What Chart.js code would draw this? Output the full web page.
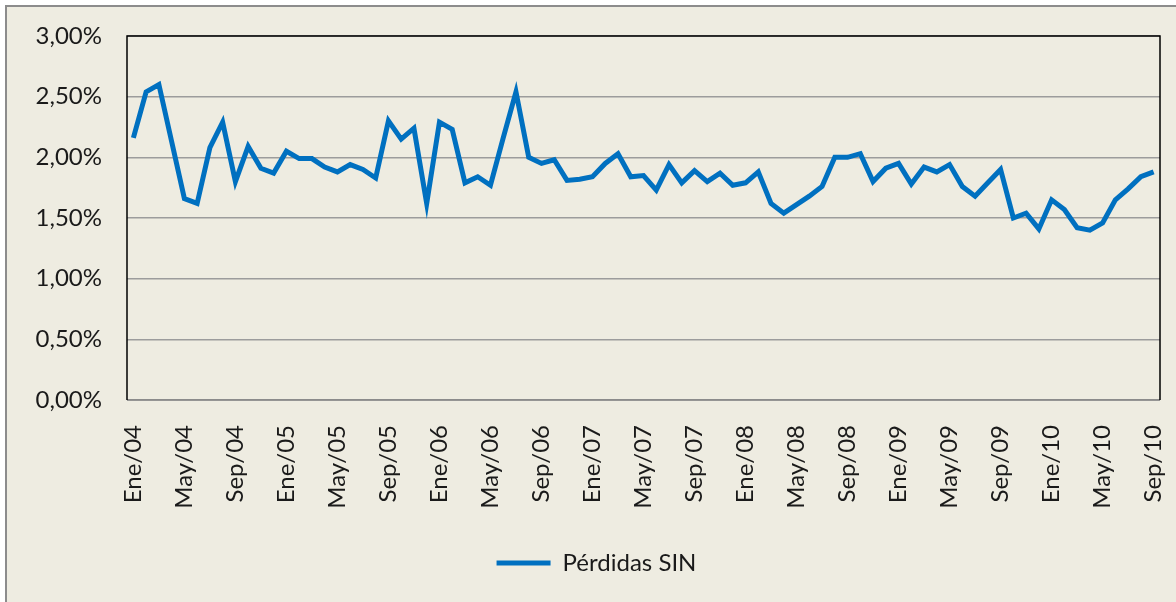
<!DOCTYPE html>
<html>
<head>
<meta charset="utf-8">
<script src="https://cdn.jsdelivr.net/npm/chart.js@4"></script>
<style>
  html, body { margin: 0; padding: 0; background: #fff; }
  #frame {
    position: absolute; left: 5px; top: 5px;
    width: 1171px; height: 597px;
    background: #EEECE1;
    border-left: 2px solid #8c8c8c; border-top: 2px solid #8c8c8c;
  }
  #chart { display: block; }
</style>
</head>
<body>
<div id="frame"><canvas id="chart" width="1169" height="595"></canvas></div>
<script>
// Pérdidas SIN, mensual Ene/04 - Sep/10 (en %)
const MESES = ["Ene","Feb","Mar","Abr","May","Jun","Jul","Ago","Sep","Oct","Nov","Dic"];
const ANIOS = ["04","05","06","07","08","09","10"];
const categorias = [];
ANIOS.forEach(a => MESES.forEach(m => categorias.push(m + "/" + a)));
categorias.length = 81; // hasta Sep/10

const perdidas = [
  2.16, 2.54, 2.60, 2.13, 1.66, 1.62, 2.08, 2.29, 1.80, 2.09, 1.91, 1.87,
  2.05, 1.99, 1.99, 1.92, 1.88, 1.94, 1.90, 1.83, 2.30, 2.15, 2.24, 1.62,
  2.29, 2.23, 1.79, 1.84, 1.77, 2.16, 2.54, 2.00, 1.95, 1.98, 1.81, 1.82,
  1.84, 1.95, 2.03, 1.84, 1.85, 1.73, 1.94, 1.79, 1.89, 1.80, 1.87, 1.77,
  1.79, 1.88, 1.62, 1.54, 1.61, 1.68, 1.76, 2.00, 2.00, 2.03, 1.80, 1.91,
  1.95, 1.78, 1.92, 1.88, 1.94, 1.76, 1.68, 1.79, 1.90, 1.50, 1.54, 1.41,
  1.65, 1.57, 1.42, 1.40, 1.46, 1.65, 1.74, 1.84, 1.88
];

const AZUL = "#0070C0";
const TEXTO = "#1a1a1a";
const FUENTE = "Lato";

// Plot area frame: black top/left/right, grey bottom
const marcoPlot = {
  id: "marcoPlot",
  beforeDatasetsDraw(chart) {
    const { ctx, chartArea: a } = chart;
    ctx.save();
    ctx.lineWidth = 1.5;
    ctx.strokeStyle = "#868686";
    ctx.beginPath();
    ctx.moveTo(a.left, a.bottom); ctx.lineTo(a.right, a.bottom);
    ctx.stroke();
    ctx.strokeStyle = "#000";
    ctx.beginPath();
    ctx.moveTo(a.left, a.bottom); ctx.lineTo(a.left, a.top);
    ctx.lineTo(a.right, a.top); ctx.lineTo(a.right, a.bottom);
    ctx.stroke();
    ctx.restore();
  }
};

new Chart(document.getElementById("chart"), {
  type: "line",
  data: {
    labels: categorias,
    datasets: [{
      label: "Pérdidas SIN",
      data: perdidas,
      borderColor: AZUL,
      backgroundColor: AZUL,
      borderWidth: 5,
      pointRadius: 0,
      tension: 0,
      fill: false,
    }]
  },
  options: {
    responsive: false,
    animation: false,
    layout: { padding: { top: 29, right: 16, bottom: 17, left: 26 } },
    plugins: {
      tooltip: { enabled: false },
      legend: {
        position: "bottom",
        labels: {
          color: TEXTO,
          font: { family: FUENTE, size: 24 },
          boxWidth: 54, boxHeight: 5, padding: 10,
          generateLabels: () => [{
            text: "Pérdidas SIN", fillStyle: AZUL, strokeStyle: AZUL,
            lineWidth: 0, hidden: false, datasetIndex: 0, fontColor: TEXTO
          }]
        }
      }
    },
    scales: {
      x: {
        offset: true,
        grid: { display: false, drawTicks: false },
        border: { display: false },
        afterFit: s => { s.height = 141; s.paddingLeft = 0; s.paddingRight = 0; },
        ticks: {
          autoSkip: false, maxRotation: 90, minRotation: 90,
          padding: 25, color: TEXTO,
          font: { family: FUENTE, size: 24 },
          callback: (v, i) => (i % 4 === 0 ? categorias[i] : "")
        }
      },
      y: {
        min: 0, max: 3,
        grid: { color: "#9c9c9c", lineWidth: 1.5, drawTicks: false },
        border: { display: false },
        afterFit: s => { s.width = 94; s.paddingTop = 0; s.paddingBottom = 0; },
        ticks: {
          stepSize: 0.5, padding: 25, color: TEXTO,
          font: { family: FUENTE, size: 24 },
          callback: v => v.toFixed(2).replace(".", ",") + "%"
        }
      }
    }
  },
  plugins: [marcoPlot]
});
</script>
</body>
</html>
